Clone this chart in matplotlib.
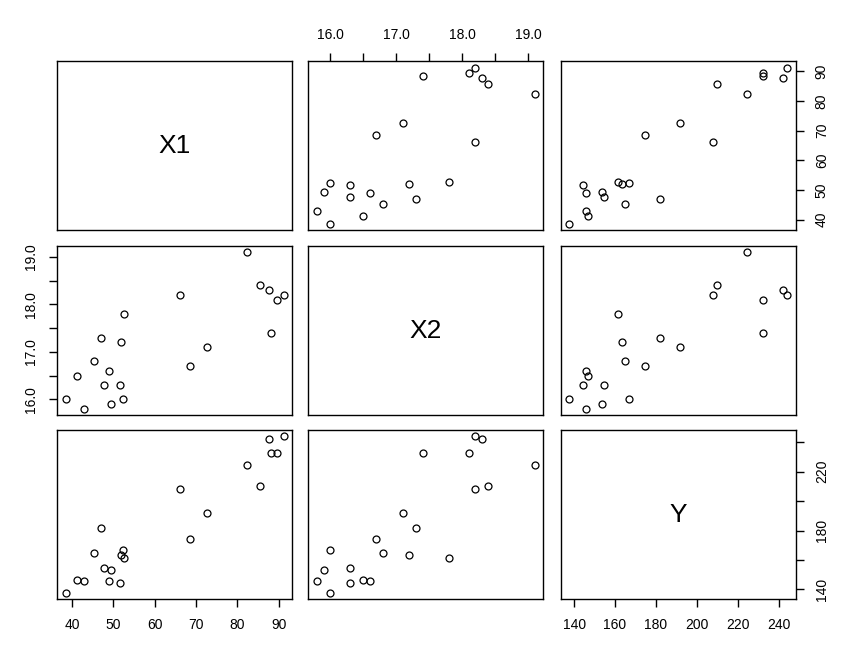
import matplotlib
matplotlib.use("Agg")
import matplotlib.pyplot as plt
import numpy as np

plt.rcParams['font.family'] = ['Liberation Sans', 'DejaVu Sans']

X1 = [38.5, 41.1, 42.8, 45.2, 46.9, 47.6, 48.9, 49.4, 51.5, 51.9, 52.3,
      52.5, 66.0, 68.5, 72.6, 82.4, 85.6, 87.7, 88.2, 89.5, 91.2]
X2 = [16.0, 16.5, 15.8, 16.8, 17.3, 16.3, 16.6, 15.9, 16.3, 17.2, 16.0,
      17.8, 18.2, 16.7, 17.1, 19.1, 18.4, 18.3, 17.4, 18.1, 18.2]
Y = [137.7, 146.6, 145.9, 165.0, 182.0, 154.8, 145.9, 153.4, 144.5, 163.6, 167.0,
     161.6, 208.0, 174.5, 191.6, 224.3, 210.0, 242.0, 232.5, 232.5, 244.1]

names = ["X1", "X2", "Y"]
data = [np.array(X1), np.array(X2), np.array(Y)]

tick_vals = [
    [40, 50, 60, 70, 80, 90],
    [16.0, 16.5, 17.0, 17.5, 18.0, 18.5, 19.0],
    [140, 160, 180, 200, 220, 240],
]
tick_labels_h = [
    ["40", "50", "60", "70", "80", "90"],
    ["16.0", "", "17.0", "", "18.0", "", "19.0"],
    ["140", "160", "180", "200", "220", "240"],
]
tick_labels_v = [
    ["40", "50", "60", "70", "80", "90"],
    ["16.0", "", "17.0", "", "18.0", "", "19.0"],
    ["140", "", "180", "", "220", ""],
]

W, H = 855, 658
fig = plt.figure(figsize=(W / 100, H / 100), dpi=100)

col_left = [57.3, 308.3, 560.7]
col_w = 235.0
row_top = [61.3, 246.0, 430.0]
row_h = 169.0

def lims(v):
    lo, hi = v.min(), v.max()
    pad = (hi - lo) * 0.04
    return lo - pad, hi + pad

for i in range(3):
    for j in range(3):
        ax = fig.add_axes([col_left[j] / W, 1 - (row_top[i] + row_h) / H,
                           col_w / W, row_h / H])
        for s in ax.spines.values():
            s.set_linewidth(1.0)
        ax.set_xlim(*lims(data[j]))
        ax.set_ylim(*lims(data[i]))
        if i == j:
            ax.text(0.5, 0.5, names[i], transform=ax.transAxes, ha='center',
                    va='center', fontsize=19)
        else:
            ax.plot(data[j], data[i], linestyle='none', marker='o', markersize=5,
                    markerfacecolor='none', markeredgecolor='black', markeredgewidth=0.9)
        ax.tick_params(direction='out', length=5.8, width=1.0, labelsize=10,
                       pad=8, colors='black')
        # x axis
        ax.set_xticks(tick_vals[j])
        if i == 2 and j in (0, 2):
            ax.set_xticklabels(tick_labels_h[j])
            ax.tick_params(axis='x', bottom=True, top=False, labelbottom=True, labeltop=False)
        elif i == 0 and j == 1:
            ax.set_xticklabels(tick_labels_h[j])
            ax.tick_params(axis='x', bottom=False, top=True, labelbottom=False, labeltop=True)
        else:
            ax.tick_params(axis='x', bottom=False, top=False, labelbottom=False, labeltop=False)
        # y axis
        ax.set_yticks(tick_vals[i])
        if j == 0 and i == 1:
            ax.set_yticklabels(tick_labels_v[i], rotation=90, va='center')
            ax.tick_params(axis='y', left=True, right=False, labelleft=True, labelright=False)
        elif j == 2 and i in (0, 2):
            ax.set_yticklabels(tick_labels_v[i], rotation=90, va='center')
            ax.tick_params(axis='y', left=False, right=True, labelleft=False, labelright=True)
        else:
            ax.tick_params(axis='y', left=False, right=False, labelleft=False, labelright=False)

fig.savefig("out.png", dpi=100, facecolor='white')
